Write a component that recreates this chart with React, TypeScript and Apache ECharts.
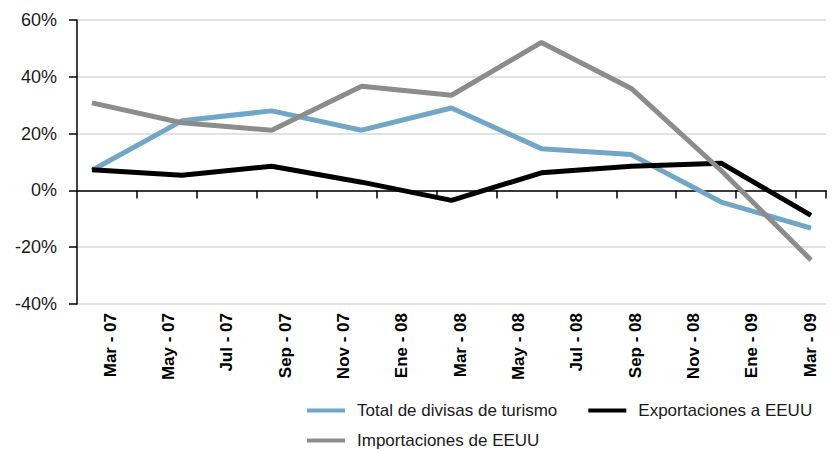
import React, { useEffect, useRef } from "react";
import * as echarts from "echarts";

const months = [
  "Mar-07", "Abr-07", "May-07", "Jun-07", "Jul-07", "Ago-07", "Sep-07", "Oct-07", "Nov-07",
  "Dic-07", "Ene-08", "Feb-08", "Mar-08", "Abr-08", "May-08", "Jun-08", "Jul-08", "Ago-08",
  "Sep-08", "Oct-08", "Nov-08", "Dic-08", "Ene-09", "Feb-09", "Mar-09",
];
const quarters = ["Mar-07", "Jun-07", "Sep-07", "Dic-07", "Mar-08", "Jun-08", "Sep-08", "Dic-08", "Mar-09"];
const tickLabels = [
  "Mar - 07", "May - 07", "Jul - 07", "Sep - 07", "Nov - 07", "Ene - 08", "Mar - 08",
  "May - 08", "Jul - 08", "Sep - 08", "Nov - 08", "Ene - 09", "Mar - 09",
];
const turismo = [7.1, 24.5, 28, 21.2, 29, 14.7, 12.6, -4.1, -13.3];
const exportaciones = [7.3, 5.3, 8.5, 2.9, -3.5, 6.2, 8.5, 9.6, -8.8];
const importaciones = [30.8, 23.8, 21.2, 36.7, 33.5, 52.1, 35.9, 7, -24.5];

const names = ["Total de divisas de turismo", "Exportaciones a EEUU", "Importaciones de EEUU"];
const colors = ["#72a6c6", "#000000", "#8c8c8c"];

export default function App() {
  const ref = useRef<HTMLDivElement>(null);
  useEffect(() => {
    if (!ref.current) return;
    const chart = echarts.init(ref.current, undefined, { renderer: "svg" });
    const pair = (arr: number[]) => quarters.map((q, i) => [q, arr[i]]);
    const font = "'Liberation Sans', Arial, sans-serif";
    const legendBase = {
      left: 307,
      width: 520,
      padding: 0,
      itemWidth: 38,
      itemHeight: 4,
      itemGap: 31,
      icon: "rect",
      textStyle: { fontFamily: font, fontSize: 17, color: "#1a1a1a", padding: [0, 0, 0, 7] },
    };
    chart.setOption({
      animation: false,
      backgroundColor: "#ffffff",
      grid: [
        { left: 77, right: 11, top: 20, bottom: 147 },
        { left: 110, right: 27, top: 20, bottom: 147 },
      ],
      legend: [
        { ...legendBase, data: [names[0], names[1]], top: 402 },
        { ...legendBase, data: [names[2]], top: 432 },
      ],
      xAxis: [
        {
          type: "category",
          gridIndex: 0,
          data: months,
          boundaryGap: true,
          axisLine: { show: true, onZero: true, lineStyle: { color: "#000", width: 1.5 } },
          axisTick: {
            show: true,
            length: 8,
            interval: (index: number) => index >= 2 && index % 2 === 0,
            lineStyle: { color: "#000", width: 1.5 },
          },
          axisLabel: { show: false },
          splitLine: { show: false },
        },
        {
          type: "category",
          gridIndex: 1,
          data: tickLabels,
          boundaryGap: false,
          position: "bottom",
          axisLine: { show: false, onZero: false },
          axisTick: { show: false },
          axisLabel: {
            show: true,
            interval: 0,
            rotate: 90,
            margin: 9,
            fontFamily: font,
            fontWeight: "bold",
            fontSize: 17,
            color: "#000",
          },
          splitLine: { show: false },
        },
      ],
      yAxis: [
        {
          type: "value",
          gridIndex: 0,
          min: -40,
          max: 60,
          interval: 20,
          axisLine: { show: true, lineStyle: { color: "#000", width: 1.5 } },
          axisTick: { show: true, length: 8, lineStyle: { color: "#000", width: 1.5 } },
          axisLabel: {
            formatter: (v: number) => `${v}%`,
            margin: 20,
            fontFamily: font,
            fontSize: 18,
            color: "#1a1a1a",
          },
          splitLine: { show: true, lineStyle: { color: "#d9d9d9", width: 1.5 } },
        },
        { type: "value", gridIndex: 1, min: -40, max: 60, show: false },
      ],
      series: [
        { name: names[0], data: pair(turismo) },
        { name: names[1], data: pair(exportaciones) },
        { name: names[2], data: pair(importaciones) },
      ].map((s, i) => ({
        ...s,
        type: "line",
        xAxisIndex: 0,
        yAxisIndex: 0,
        color: colors[i],
        symbol: "none",
        showSymbol: false,
        lineStyle: { color: colors[i], width: 5 },
      })),
    });
    return () => chart.dispose();
  }, []);
  return (
    <div
      ref={ref}
      style={{ position: "fixed", left: 0, top: 0, width: "837px", height: "451px" }}
    />
  );
}
